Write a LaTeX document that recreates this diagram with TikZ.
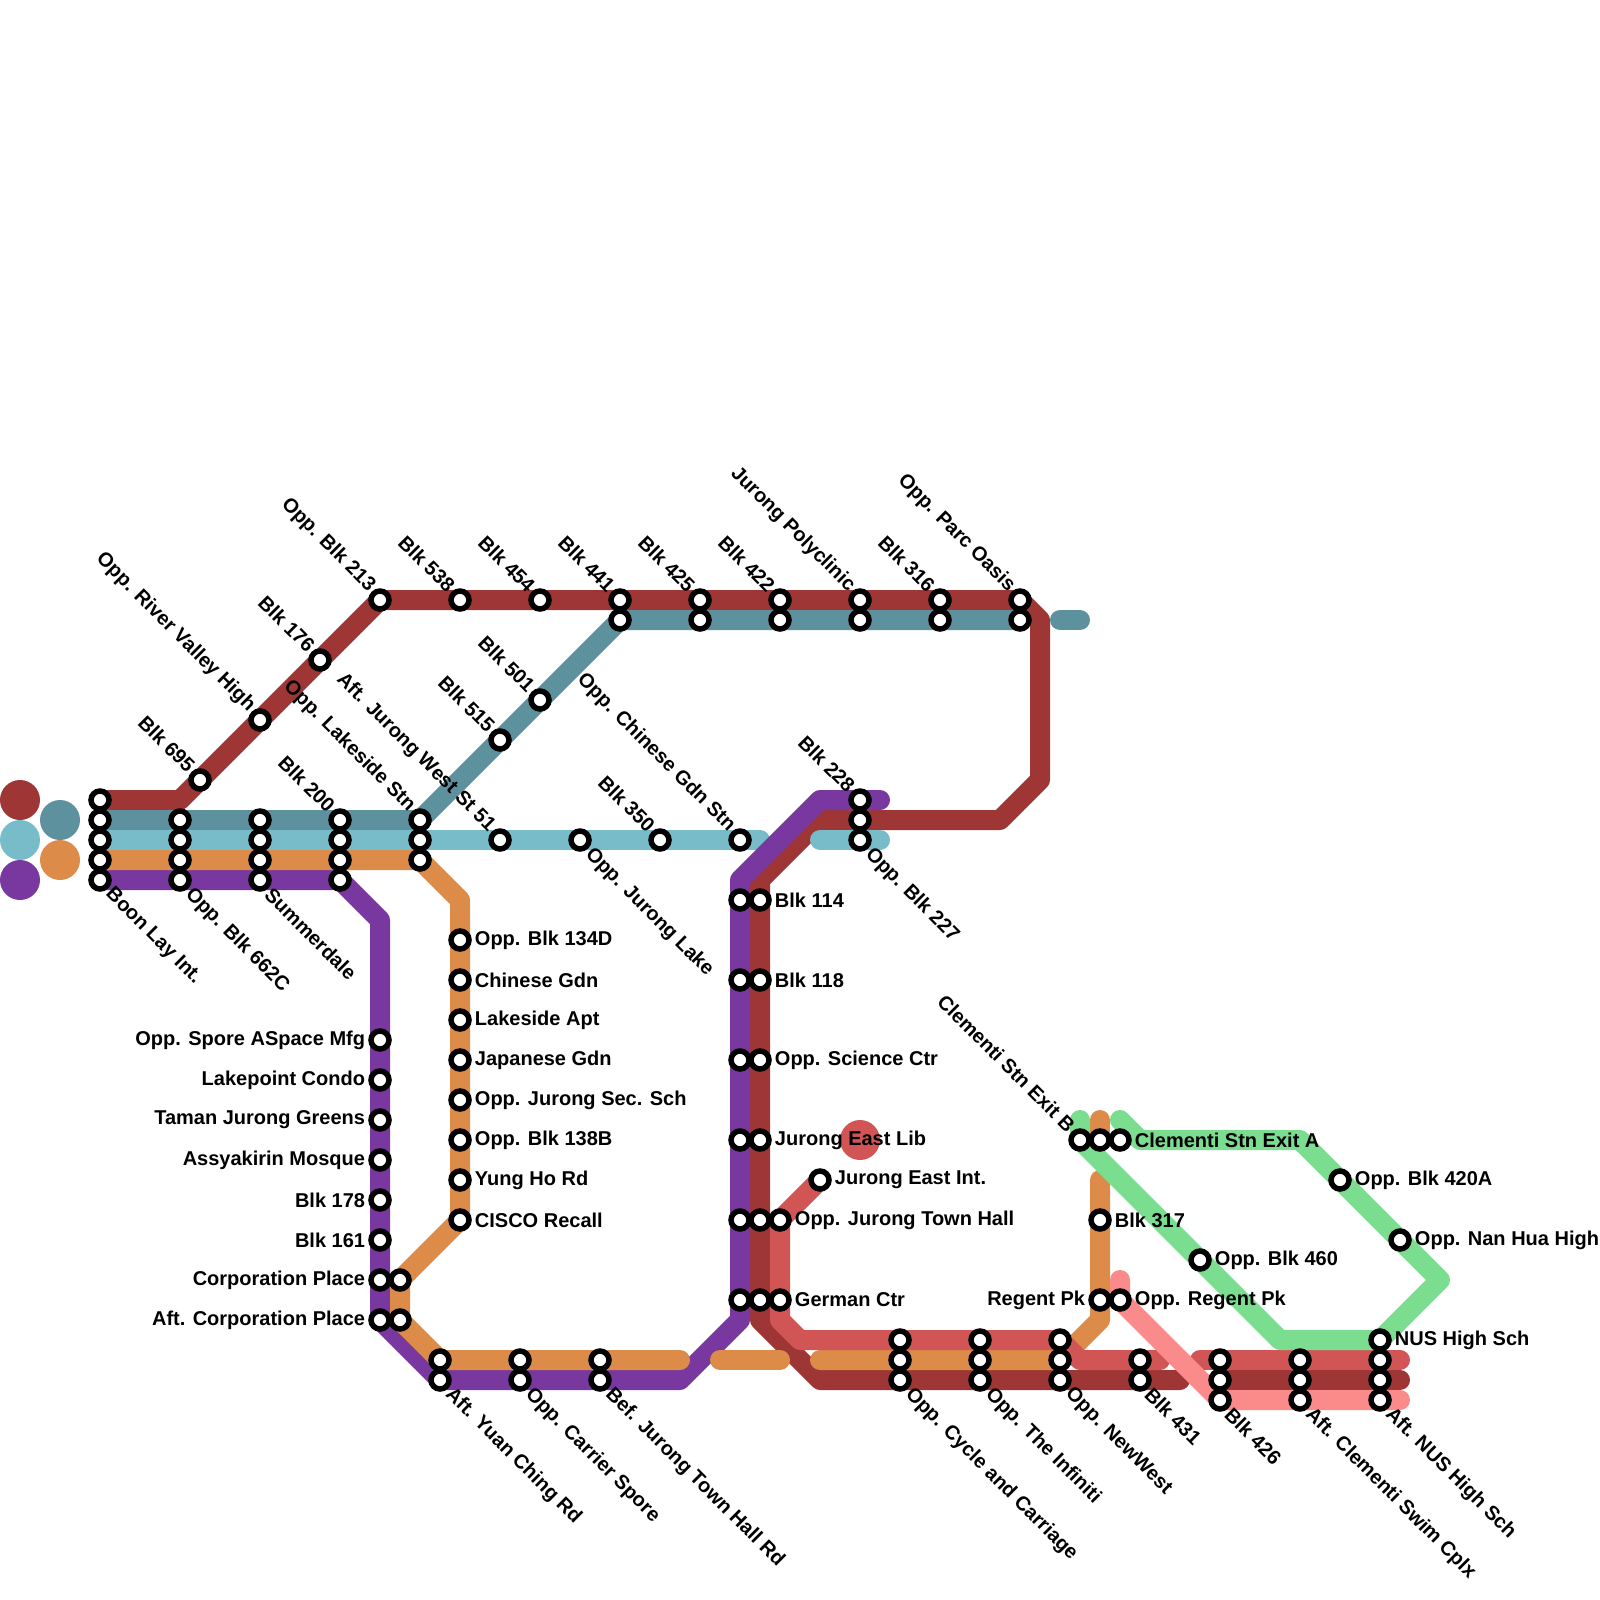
\documentclass[tikz,border=0pt]{standalone}
\usepackage{fontspec}
\setmainfont{Liberation Sans}
\usetikzlibrary{backgrounds}

\definecolor{routeRed}{HTML}{9E3636}
\definecolor{routeTeal}{HTML}{5E919E}
\definecolor{routeBlue}{HTML}{78BCCA}
\definecolor{routeOrange}{HTML}{DC8B48}
\definecolor{routePurple}{HTML}{7838A0}
\definecolor{routeCoral}{HTML}{D25556}
\definecolor{routeGreen}{HTML}{7BDD8F}
\definecolor{routePink}{HTML}{FB8A8B}

\tikzstyle{stn} = [circle, draw=black, fill=white, line width=5.5pt, minimum size=18pt, inner sep=0pt]
\tikzstyle{legend} = [circle, minimum size=40pt, inner sep=0pt]
\tikzstyle{route} = [line width=20pt, line cap=round, line join=round]
\tikzstyle{lbl} = [font=\bfseries\fontsize{20}{22}\selectfont, inner sep=0pt, label distance=3pt]
\tikzstyle{lblr} = [lbl, anchor=west]
\tikzstyle{lbll} = [lbl, anchor=east]
\tikzstyle{lblse} = [lbl, rotate=-45, anchor=west]
\tikzstyle{lblnw} = [lbl, rotate=-45, anchor=east]

\begin{document}
\begin{tikzpicture}[x=20pt, y=-20pt, label distance=3pt]
\useasboundingbox (0,0) rectangle (80,80);

% legend
\node[legend, fill=routeRed] (legRed) at (1,40) {};
\node[legend, fill=routeBlue] (legBlue) at (1,42) {};
\node[legend, fill=routePurple] (legPurple) at (1,44) {};
\node[legend, fill=routeTeal] (legTeal) at (3,41) {};
\node[legend, fill=routeOrange] (legOrange) at (3,43) {};
\node[legend, fill=routeCoral] (legCoral) at (43,57) {};

% bends
\coordinate (rA) at (9,40);
\coordinate (rB) at (52,31);
\coordinate (rC) at (52,39);
\coordinate (rD) at (50,41);
\coordinate (rE) at (41,41);
\coordinate (rF) at (38,44);
\coordinate (rG) at (38,66);
\coordinate (rH) at (41,69);
\coordinate (rI) at (59,69);
\coordinate (tA) at (53,31);
\coordinate (tB) at (54,31);
\coordinate (bA) at (38,42);
\coordinate (bB) at (41,42);
\coordinate (bC) at (44,42);
\coordinate (oA) at (23,45);
\coordinate (oB) at (34,68);
\coordinate (oC) at (36,68);
\coordinate (oD) at (39,68);
\coordinate (oE) at (41,68);
\coordinate (oF) at (55,66);
\coordinate (oG) at (55,59);
\coordinate (oH) at (55,56);
\coordinate (pA) at (19,46);
\coordinate (pB) at (34,69);
\coordinate (pC) at (37,66);
\coordinate (pD) at (37,44);
\coordinate (pE) at (41,40);
\coordinate (pF) at (44,40);
\coordinate (cA) at (39,66);
\coordinate (cB) at (40,67);
\coordinate (cC) at (53,67);
\coordinate (cD) at (54,68);
\coordinate (cE) at (58,68);
\coordinate (cF) at (60,68);
\coordinate (cG) at (70,68);
\coordinate (rJ) at (70,69);
\coordinate (gA) at (54,56);
\coordinate (gB) at (64,67);
\coordinate (gC) at (72,64);
\coordinate (gD) at (65,57);
\coordinate (gE) at (57,57);
\coordinate (gF) at (56,56);
\coordinate (kA) at (56,64);
\coordinate (kB) at (70,70);

% stations, west end
\node[stn] (boon1) at (5,40) {};
\node[stn] (boon2) at (5,41) {};
\node[stn] (boon3) at (5,42) {};
\node[stn] (boon4) at (5,43) {};
\node[stn, label={[lblse]-45:Boon Lay Int.}] (boon5) at (5,44) {};
\node[stn] (b662a) at (9,41) {};
\node[stn] (b662b) at (9,42) {};
\node[stn] (b662c) at (9,43) {};
\node[stn, label={[lblse]-45:Opp. Blk 662C}] (b662d) at (9,44) {};
\node[stn] (summer1) at (13,41) {};
\node[stn] (summer2) at (13,42) {};
\node[stn] (summer3) at (13,43) {};
\node[stn, label={[lblse]-45:Summerdale}] (summer4) at (13,44) {};
\node[stn, label={[lblnw]135:Blk 200}] (b200a) at (17,41) {};
\node[stn] (b200b) at (17,42) {};
\node[stn] (b200c) at (17,43) {};
\node[stn] (b200d) at (17,44) {};
\node[stn, label={[lblnw]135:Opp. Lakeside Stn}] (lakeside1) at (21,41) {};
\node[stn] (lakeside2) at (21,42) {};
\node[stn] (lakeside3) at (21,43) {};

% stations, upper line
\node[stn, label={[lblnw]135:Blk 695}] (b695) at (10,39) {};
\node[stn, label={[lblnw]135:Opp. River Valley High}] (river) at (13,36) {};
\node[stn, label={[lblnw]135:Blk 176}] (b176) at (16,33) {};
\node[stn, label={[lblnw]135:Opp. Blk 213}] (b213) at (19,30) {};
\node[stn, label={[lblnw]135:Blk 538}] (b538) at (23,30) {};
\node[stn, label={[lblnw]135:Blk 454}] (b454) at (27,30) {};
\node[stn, label={[lblnw]135:Blk 441}] (b441a) at (31,30) {};
\node[stn] (b441b) at (31,31) {};
\node[stn, label={[lblnw]135:Blk 425}] (b425a) at (35,30) {};
\node[stn] (b425b) at (35,31) {};
\node[stn, label={[lblnw]135:Blk 422}] (b422a) at (39,30) {};
\node[stn] (b422b) at (39,31) {};
\node[stn, label={[lblnw]135:Jurong Polyclinic}] (poly1) at (43,30) {};
\node[stn] (poly2) at (43,31) {};
\node[stn, label={[lblnw]135:Blk 316}] (b316a) at (47,30) {};
\node[stn] (b316b) at (47,31) {};
\node[stn, label={[lblnw]135:Opp. Parc Oasis}] (parc1) at (51,30) {};
\node[stn] (parc2) at (51,31) {};
\node[stn, label={[lblnw]135:Blk 515}] (b515) at (25,37) {};
\node[stn, label={[lblnw]135:Blk 501}] (b501) at (27,35) {};

% stations, middle line
\node[stn, label={[lblnw]135:Aft. Jurong West St 51}] (west51) at (25,42) {};
\node[stn, label={[lblse]-45:Opp. Jurong Lake}] (jlake) at (29,42) {};
\node[stn, label={[lblnw]135:Blk 350}] (b350) at (33,42) {};
\node[stn, label={[lblnw]135:Opp. Chinese Gdn Stn}] (cgdn) at (37,42) {};
\node[stn, label={[lblnw]135:Blk 228}] (b228a) at (43,40) {};
\node[stn] (b228b) at (43,41) {};
\node[stn, label={[lblse]-45:Opp. Blk 227}] (b228c) at (43,42) {};

% stations, orange column
\node[stn, label={[lblr]right:Opp. Blk 134D}] (b134d) at (23,47) {};
\node[stn, label={[lblr]right:Chinese Gdn}] (chgdn) at (23,49) {};
\node[stn, label={[lblr]right:Lakeside Apt}] (lapt) at (23,51) {};
\node[stn, label={[lblr]right:Japanese Gdn}] (jgdn) at (23,53) {};
\node[stn, label={[lblr]right:Opp. Jurong Sec. Sch}] (jsec) at (23,55) {};
\node[stn, label={[lblr]right:Opp. Blk 138B}] (b138b) at (23,57) {};
\node[stn, label={[lblr]right:Yung Ho Rd}] (yung) at (23,59) {};
\node[stn, label={[lblr]right:CISCO Recall}] (cisco) at (23,61) {};
\node[stn] (corpo) at (20,64) {};
\node[stn] (acorpo) at (20,66) {};

% stations, purple column
\node[stn, label={[lbll]left:Opp. Spore ASpace Mfg}] (aspace) at (19,52) {};
\node[stn, label={[lbll]left:Lakepoint Condo}] (lakep) at (19,54) {};
\node[stn, label={[lbll]left:Taman Jurong Greens}] (taman) at (19,56) {};
\node[stn, label={[lbll]left:Assyakirin Mosque}] (assya) at (19,58) {};
\node[stn, label={[lbll]left:Blk 178}] (b178) at (19,60) {};
\node[stn, label={[lbll]left:Blk 161}] (b161) at (19,62) {};
\node[stn, label={[lbll]left:Corporation Place}] (corpp) at (19,64) {};
\node[stn, label={[lbll]left:Aft. Corporation Place}] (acorpp) at (19,66) {};

% stations, lower line west
\node[stn] (yuan1) at (22,68) {};
\node[stn, label={[lblse]-45:Aft. Yuan Ching Rd}] (yuan2) at (22,69) {};
\node[stn] (carrier1) at (26,68) {};
\node[stn, label={[lblse]-45:Opp. Carrier Spore}] (carrier2) at (26,69) {};
\node[stn] (bef1) at (30,68) {};
\node[stn, label={[lblse]-45:Bef. Jurong Town Hall Rd}] (bef2) at (30,69) {};

% stations, centre columns
\node[stn] (p114) at (37,45) {};
\node[stn] (p118) at (37,49) {};
\node[stn] (psci) at (37,53) {};
\node[stn] (plib) at (37,57) {};
\node[stn] (phall) at (37,61) {};
\node[stn] (pgerm) at (37,65) {};
\node[stn, label={[lblr]right:Blk 114}] (r114) at (38,45) {};
\node[stn, label={[lblr]right:Blk 118}] (r118) at (38,49) {};
\node[stn, label={[lblr]right:Opp. Science Ctr}] (rsci) at (38,53) {};
\node[stn, label={[lblr]right:Jurong East Lib}] (rlib) at (38,57) {};
\node[stn] (rhall) at (38,61) {};
\node[stn] (rgerm) at (38,65) {};
\node[stn, label={[lblr]right:Jurong East Int.}] (jeint) at (41,59) {};
\node[stn, label={[lblr]right:Opp. Jurong Town Hall}] (chall) at (39,61) {};
\node[stn, label={[lblr]right:German Ctr}] (cgerm) at (39,65) {};

% stations, lower line east
\node[stn] (cycle1) at (45,67) {};
\node[stn] (cycle2) at (45,68) {};
\node[stn, label={[lblse]-45:Opp. Cycle and Carriage}] (cycle3) at (45,69) {};
\node[stn] (infin1) at (49,67) {};
\node[stn] (infin2) at (49,68) {};
\node[stn, label={[lblse]-45:Opp. The Infiniti}] (infin3) at (49,69) {};
\node[stn] (newwest1) at (53,67) {};
\node[stn] (newwest2) at (53,68) {};
\node[stn, label={[lblse]-45:Opp. NewWest}] (newwest3) at (53,69) {};
\node[stn] (b431a) at (57,68) {};
\node[stn, label={[lblse]-45:Blk 431}] (b431b) at (57,69) {};
\node[stn] (b426a) at (61,68) {};
\node[stn] (b426b) at (61,69) {};
\node[stn, label={[lblse]-45:Blk 426}] (b426c) at (61,70) {};
\node[stn] (swim1) at (65,68) {};
\node[stn] (swim2) at (65,69) {};
\node[stn, label={[lblse]-45:Aft. Clementi Swim Cplx}] (swim3) at (65,70) {};
\node[stn, label={[lblr]right:NUS High Sch}] (nus) at (69,67) {};
\node[stn] (anus1) at (69,68) {};
\node[stn] (anus2) at (69,69) {};
\node[stn, label={[lblse]-45:Aft. NUS High Sch}] (anus3) at (69,70) {};

% stations, clementi
\node[stn, label={[lblnw]135:Clementi Stn Exit B}] (exitb) at (54,57) {};
\node[stn] (exitm) at (55,57) {};
\node[stn, label={[lblr]right:Clementi Stn Exit A}] (exita) at (56,57) {};
\node[stn, label={[lblr]right:Blk 317}] (b317) at (55,61) {};
\node[stn, label={[lbll]left:Regent Pk}] (regent) at (55,65) {};
\node[stn, label={[lblr]right:Opp. Regent Pk}] (oregent) at (56,65) {};
\node[stn, label={[lblr]right:Opp. Blk 460}] (b460) at (60,63) {};
\node[stn, label={[lblr]right:Opp. Blk 420A}] (b420a) at (67,59) {};
\node[stn, label={[lblr]right:Opp. Nan Hua High}] (nanhua) at (70,62) {};

% routes
\begin{scope}[on background layer]
\draw[route, routeRed] (boon1.center) -- (rA) -- (b213.center) -- (parc1.center) -- (rB) -- (rC) -- (rD) -- (rE) -- (rF) -- (rG) -- (rH) -- (rI);
\draw[route, routeRed] (b426b.center) -- (rJ);
\draw[route, routeTeal] (boon2.center) -- (lakeside1.center) -- (b441b.center) -- (parc2.center);
\draw[route, routeTeal] (tA) -- (tB);
\draw[route, routeBlue] (boon3.center) -- (bA);
\draw[route, routeBlue] (bB) -- (bC);
\draw[route, routePurple] (boon5.center) -- (b200d.center) -- (pA) -- (acorpp.center) -- (yuan2.center) -- (pB) -- (pC) -- (pD) -- (pE) -- (pF);
\draw[route, routeOrange] (boon4.center) -- (lakeside3.center) -- (oA) -- (cisco.center) -- (corpo.center) -- (acorpo.center) -- (yuan1.center) -- (oB);
\draw[route, routeOrange] (oC) -- (oD);
\draw[route, routeOrange] (oE) -- (newwest2.center) -- (oF) -- (oG);
\draw[route, routeOrange] (oH) -- (exitm.center);
\draw[route, routeCoral] (jeint.center) -- (chall.center) -- (cA) -- (cB) -- (cC) -- (cD) -- (cE);
\draw[route, routeCoral] (cF) -- (cG);
\draw[route, routeGreen] (gA) -- (exitb.center) -- (gB) -- (nus.center) -- (gC) -- (gD) -- (gE) -- (gF);
\draw[route, routePink] (kA) -- (oregent.center) -- (b426c.center) -- (kB);
\end{scope}
\end{tikzpicture}
\end{document}
